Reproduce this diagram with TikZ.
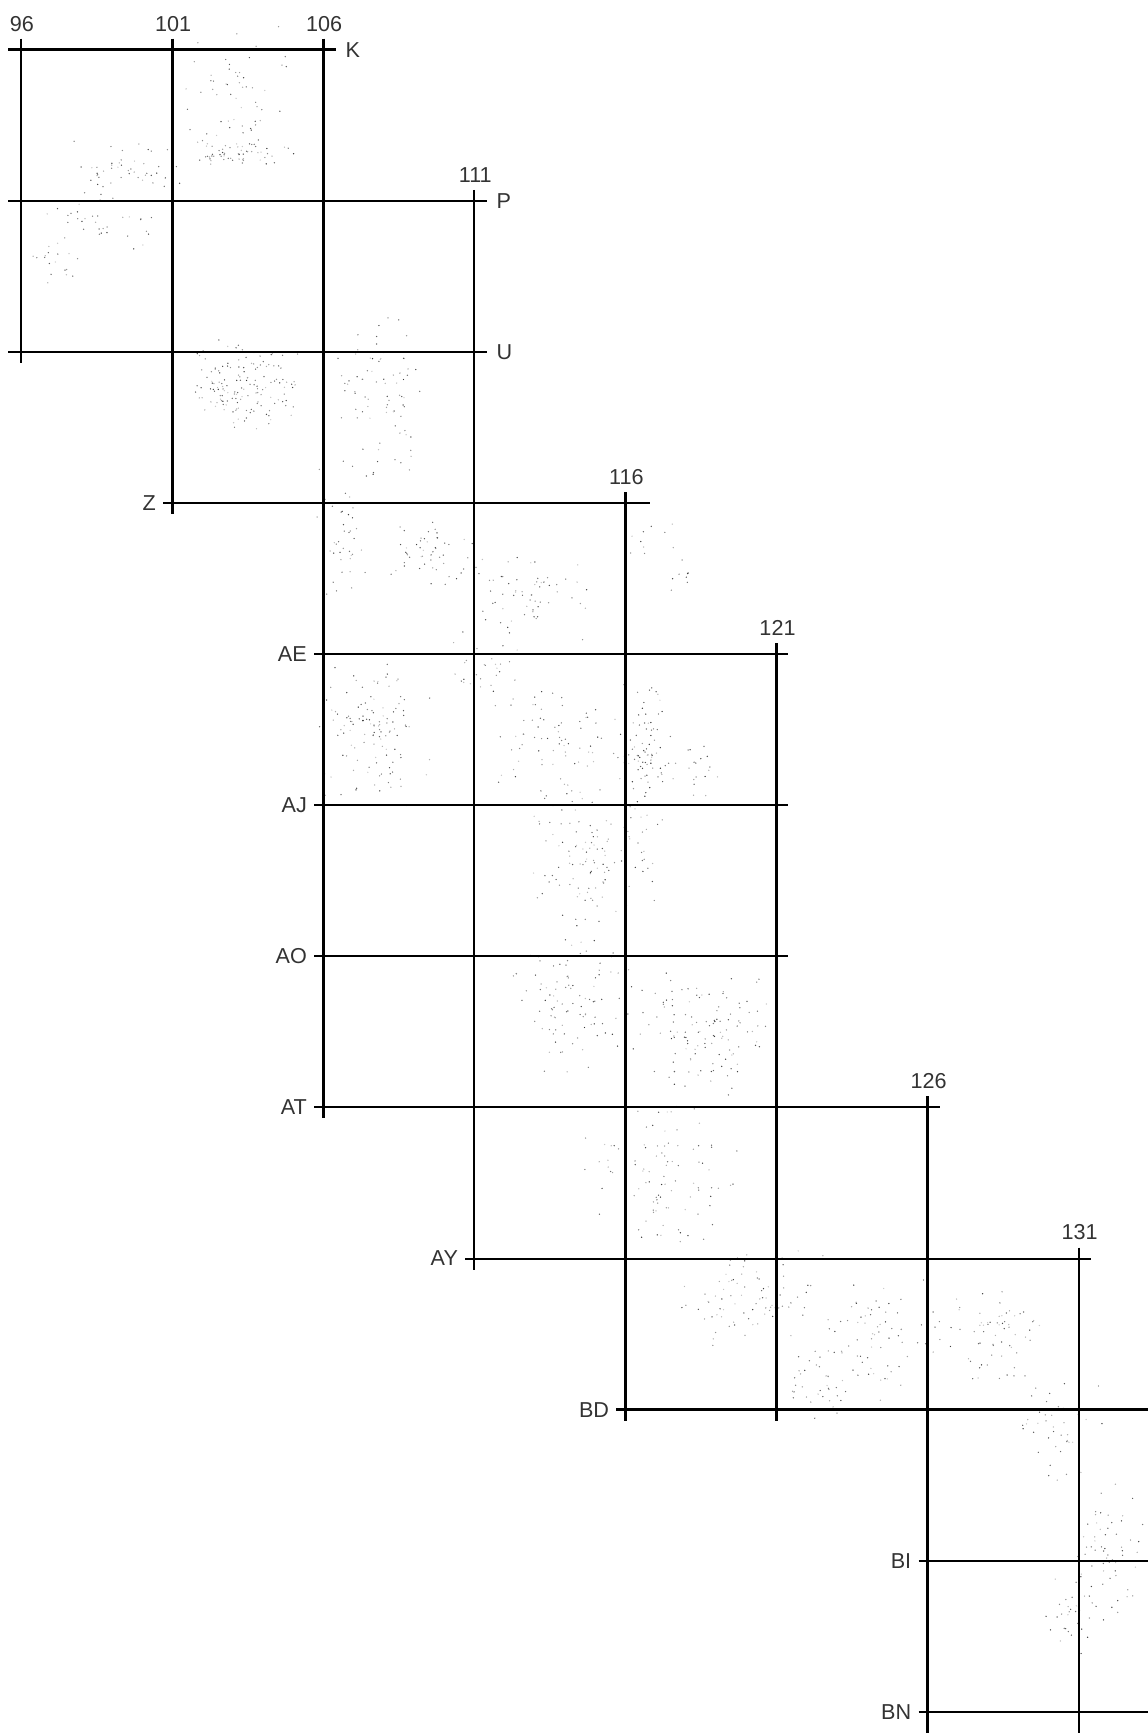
\documentclass[tikz,border=0pt]{standalone}
\usepackage{fontspec}
\setmainfont{Liberation Sans}
\begin{document}
\begin{tikzpicture}[x=0.5pt,y=-0.5pt,
  lab/.style={font=\fontsize{10.8}{12}\selectfont, inner sep=0pt, text=black!80},
  speck/.style={radius=0.36pt}]
\useasboundingbox (0,0) rectangle (1147,1733);
% scattered specks (approximate density of the scan)
\pgfmathsetseed{4321}
\foreach \cx/\cy/\w/\h/\n in {
  215/90/80/110/55, 220/137/80/20/60, 110/150/90/40/45, 90/200/100/50/35,
  50/240/40/50/18, 225/350/85/70/150, 345/360/70/140/80, 310/480/40/120/40,
  390/500/70/60/50, 480/540/100/70/60, 340/660/90/120/120, 500/680/90/120/80,
  580/690/50/130/100, 630/700/40/60/20, 540/780/100/100/100, 520/900/100/130/100,
  640/930/100/100/120, 600/1060/120/120/100, 680/1170/120/80/80, 790/1210/120/100/80,
  900/1210/80/80/60, 960/1300/80/80/40, 1000/1400/60/120/60, 970/1460/40/60/30,
  590/490/40/30/10, 620/520/30/30/8, 440/600/60/60/30, 740/1250/60/60/30}{
  \foreach \i in {1,...,\n}{
    \pgfmathsetmacro\px{1.105*(\cx+1.25*\w*(rnd+rnd-1)/2)}
    \pgfmathsetmacro\py{1.105*(\cy+1.25*\h*(rnd+rnd-1)/2)}
    \pgfmathtruncatemacro\gg{20+60*rnd}
    \fill[black!\gg] (\px,\py) circle[speck];
  }
}
% vertical grid lines with column numbers
\foreach \k/\lab/\ra/\rb/\w in {0/96/0/2/1.4, 1/101/0/3/1.4, 2/106/0/7/1.5, 3/111/1/8/1.1,
  4/116/3/9/1.5, 5/121/4/9/1.25, 6/126/7/12/1.5, 7/131/8/12/1.1}{
  \pgfmathsetmacro\xx{21+151.1*\k}
  \pgfmathsetmacro\ya{49.7+151.1*\ra-11}
  \pgfmathsetmacro\yb{min(49.7+151.1*\rb+11,1740)}
  \coordinate (v\lab a) at (\xx,\ya);
  \coordinate (v\lab b) at (\xx,\yb);
  \draw[line width=\w pt] (v\lab a) -- (v\lab b);
  \node[lab,anchor=south] (n\lab) at ({\xx+1},{\ya-7}) {\lab};
}
% horizontal grid lines labelled on the right
\foreach \r/\lab/\ca/\cb/\w in {0/K/0/2/1.4, 1/P/0/3/1.05, 2/U/0/3/1.0}{
  \pgfmathsetmacro\yy{49.7+151.1*\r}
  \pgfmathsetmacro\xa{21+151.1*\ca-13}
  \pgfmathsetmacro\xb{21+151.1*\cb+13}
  \coordinate (h\lab a) at (\xa,\yy);
  \coordinate (h\lab b) at (\xb,\yy);
  \draw[line width=\w pt] (h\lab a) -- (h\lab b);
  \node[lab,anchor=west] (n\lab) at ({\xb+9},\yy) {\lab};
}
% horizontal grid lines labelled on the left
\foreach \r/\lab/\ca/\xb/\w in {3/Z/1/650/1.0, 4/AE/2/788/0.7, 5/AJ/2/788/1.0, 6/AO/2/788/1.0,
  7/AT/2/940/1.0, 8/AY/3/1091/1.0, 9/BD/4/1150/1.25, 10/BI/6/1150/1.0, 11/BN/6/1150/1.0}{
  \pgfmathsetmacro\yy{49.7+151.1*\r}
  \pgfmathsetmacro\xa{21+151.1*\ca-9}
  \coordinate (h\lab a) at (\xa,\yy);
  \coordinate (h\lab b) at (\xb,\yy);
  \draw[line width=\w pt] (h\lab a) -- (h\lab b);
  \node[lab,anchor=east] (n\lab) at ({\xa-7},\yy) {\lab};
}
\end{tikzpicture}
\end{document}
